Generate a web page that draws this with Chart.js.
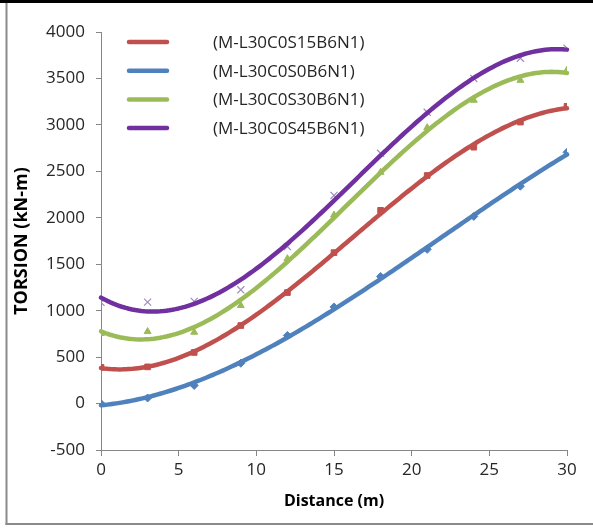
<!DOCTYPE html>
<html>
<head>
<meta charset="utf-8">
<script src="https://cdn.jsdelivr.net/npm/chart.js@4/dist/chart.umd.min.js"></script>
<style>
  html, body { margin: 0; padding: 0; background: #fff; }
  #wrap { width: 593px; height: 529px; position: relative; }
</style>
</head>
<body>
<div id="wrap"><canvas id="c" width="593" height="529"></canvas></div>
<script>
// Measured torsion along the member, one array per specimen
const distances = [0, 3, 6, 9, 12, 15, 18, 21, 24, 27, 30];
const seriesNames = ['(M-L30C0S15B6N1)', '(M-L30C0S0B6N1)', '(M-L30C0S30B6N1)', '(M-L30C0S45B6N1)'];
const torsionS15 = [390, 395, 550, 840, 1195, 1625, 2080, 2455, 2760, 3030, 3200];
const torsionS0  = [0, 60, 195, 434, 733, 1040, 1368, 1660, 2015, 2340, 2705];
const torsionS30 = [755, 775, 768, 1055, 1560, 2030, 2490, 2970, 3265, 3480, 3590];
const torsionS45 = [1090, 1092, 1100, 1225, 1690, 2240, 2694, 3136, 3500, 3718, 3826];
const xTicks = [0, 5, 10, 15, 20, 25, 30];
const yTicks = [-500, 0, 500, 1000, 1500, 2000, 2500, 3000, 3500, 4000];

const lineColors   = ['#C0504D', '#4F81BD', '#9BBB59', '#7030A0'];
const markerColors = ['#C0504D', '#4F81BD', '#9BBB59', '#9F8AC4'];
const markerStyles = ['rect', 'rectRot', 'triangle', 'crossRot'];
const seriesValues = [torsionS15, torsionS0, torsionS30, torsionS45];

const FONT = '"Open Sans", "Liberation Sans", sans-serif';
const AXIS_GREY = '#868686';

// Third-order least-squares trend line coefficients
function cubicFit(xs, ys) {
  const n = 4;
  const A = Array.from({length: n}, () => new Array(n + 1).fill(0));
  for (let k = 0; k < xs.length; k++) {
    const p = [1, xs[k], xs[k] ** 2, xs[k] ** 3];
    for (let i = 0; i < n; i++) {
      for (let j = 0; j < n; j++) A[i][j] += p[i] * p[j];
      A[i][n] += p[i] * ys[k];
    }
  }
  for (let i = 0; i < n; i++) {
    let m = i;
    for (let r = i + 1; r < n; r++) if (Math.abs(A[r][i]) > Math.abs(A[m][i])) m = r;
    [A[i], A[m]] = [A[m], A[i]];
    for (let r = 0; r < n; r++) {
      if (r === i) continue;
      const f = A[r][i] / A[i][i];
      for (let c = i; c <= n; c++) A[r][c] -= f * A[i][c];
    }
  }
  return A.map((row, i) => row[n] / row[i]);
}

const datasets = seriesValues.map((vals, i) => ({
  label: seriesNames[i],
  data: distances.map((d, k) => ({x: d, y: vals[k]})),
  showLine: false,
  pointStyle: markerStyles[i],
  pointRadius: markerStyles[i] === 'crossRot' ? 5 : 4,
  pointBackgroundColor: markerColors[i],
  pointBorderColor: markerColors[i],
  pointBorderWidth: markerStyles[i] === 'crossRot' ? 1.2 : 1,
  trendColor: lineColors[i]
}));

// Trend lines drawn over the markers
const trendPlugin = {
  id: 'trend',
  afterDatasetsDraw(chart) {
    const {ctx, scales: {x, y}, chartArea} = chart;
    ctx.save();
    ctx.beginPath();
    ctx.rect(chartArea.left - 3, chartArea.top - 3, chartArea.width + 6, chartArea.height + 6);
    ctx.clip();
    chart.data.datasets.forEach(ds => {
      const xs = ds.data.map(p => p.x), ys = ds.data.map(p => p.y);
      const c = cubicFit(xs, ys);
      const x0 = Math.min(...xs), x1 = Math.max(...xs);
      ctx.beginPath();
      for (let t = x0; t <= x1 + 1e-9; t += 0.2) {
        const v = c[0] + c[1] * t + c[2] * t * t + c[3] * t * t * t;
        const px = x.getPixelForValue(t), py = y.getPixelForValue(v);
        if (t === x0) ctx.moveTo(px, py); else ctx.lineTo(px, py);
      }
      ctx.strokeStyle = ds.trendColor;
      ctx.lineWidth = 4.5;
      ctx.lineCap = 'round';
      ctx.lineJoin = 'round';
      ctx.stroke();
    });
    ctx.restore();
  }
};

// Legend inside the plot: line samples and series names
const legendPlugin = {
  id: 'insideLegend',
  afterDraw(chart) {
    const {ctx} = chart;
    ctx.save();
    chart.data.datasets.forEach((ds, i) => {
      const cy = 42 + i * 28.7;
      ctx.beginPath();
      ctx.moveTo(129, cy);
      ctx.lineTo(167, cy);
      ctx.strokeStyle = ds.trendColor;
      ctx.lineWidth = 4.5;
      ctx.lineCap = 'round';
      ctx.stroke();
      ctx.fillStyle = '#262626';
      ctx.font = '17px ' + FONT;
      ctx.textBaseline = 'middle';
      ctx.textAlign = 'left';
      ctx.fillText(ds.label, 213, cy + 1);
    });
    ctx.restore();
  }
};

// Outer frame
const framePlugin = {
  id: 'frame',
  afterDraw(chart) {
    const {ctx} = chart;
    ctx.save();
    ctx.fillStyle = '#000';
    ctx.fillRect(0, 0, 593, 3);
    ctx.fillStyle = '#8a8a8a';
    ctx.fillRect(5.5, 3, 2, 522);
    ctx.fillRect(5.5, 523, 588, 2);
    ctx.restore();
  }
};

new Chart(document.getElementById('c'), {
  type: 'scatter',
  data: {datasets},
  plugins: [trendPlugin, legendPlugin, framePlugin],
  options: {
    responsive: false,
    animation: false,
    devicePixelRatio: 1,
    layout: {padding: {left: 0, top: 32, right: 26, bottom: 0}},
    plugins: {legend: {display: false}, tooltip: {enabled: false}},
    scales: {
      x: {
        type: 'linear',
        min: 0, max: 30,
        afterBuildTicks: s => { s.ticks = xTicks.map(v => ({value: v})); },
        afterFit: s => { s.height = 79; },
        ticks: {color: '#262626', font: {family: FONT, size: 17}, padding: 4,
                callback: v => String(v)},
        grid: {drawOnChartArea: false, drawTicks: true, tickLength: 6, color: AXIS_GREY},
        border: {color: AXIS_GREY, width: 1},
        title: {display: true, text: 'Distance (m)', color: '#000',
                font: {family: FONT, size: 16, weight: 'bold'}, padding: {top: 0, bottom: 18}}
      },
      y: {
        type: 'linear',
        min: -500, max: 4000,
        afterBuildTicks: s => { s.ticks = yTicks.map(v => ({value: v})); },
        afterFit: s => { s.width = 101; },
        ticks: {color: '#262626', font: {family: FONT, size: 17}, padding: 11,
                callback: v => String(v)},
        grid: {drawOnChartArea: false, drawTicks: true, tickLength: 5, color: AXIS_GREY},
        border: {color: AXIS_GREY, width: 1},
        title: {display: true, text: 'TORSION (kN-m)', color: '#000',
                font: {family: FONT, size: 18, weight: 'bold'}, padding: {top: 11, bottom: 0}}
      }
    }
  }
});
</script>
</body>
</html>
